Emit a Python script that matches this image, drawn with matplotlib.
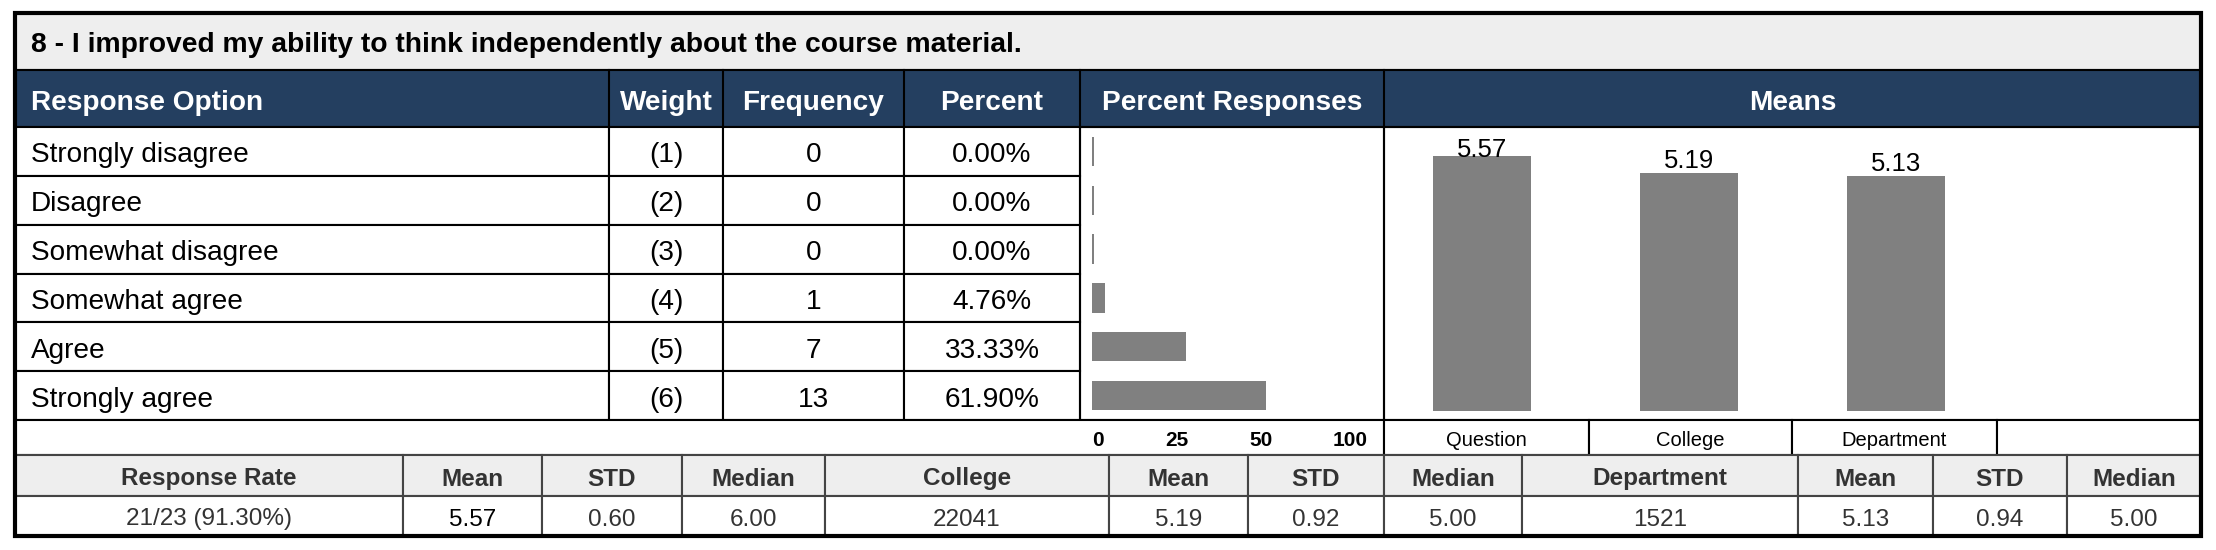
import matplotlib.pyplot as plt
from matplotlib.patches import Rectangle

plt.rcParams['font.family'] = ['Liberation Sans', 'DejaVu Sans']

# data
title = "8 - I improved my ability to think independently about the course material."
header = ["Response Option", "Weight", "Frequency", "Percent", "Percent Responses", "Means"]
options = ["Strongly disagree", "Disagree", "Somewhat disagree", "Somewhat agree", "Agree", "Strongly agree"]
weights = [1, 2, 3, 4, 5, 6]
frequency = [0, 0, 0, 1, 7, 13]
percent = [0.00, 0.00, 0.00, 4.76, 33.33, 61.90]
pct_ticks = ["0", "25", "50", "100"]
mean_groups = ["Question", "College", "Department"]
means = [5.57, 5.19, 5.13]
summary_head = ["Response Rate", "Mean", "STD", "Median", "College", "Mean", "STD",
                "Median", "Department", "Mean", "STD", "Median"]
summary_vals = ["21/23 (91.30%)", "5.57", "0.60", "6.00", "22041", "5.19", "0.92",
                "5.00", "1521", "5.13", "0.94", "5.00"]

W, H = 2216, 550
NAVY = "#243F60"
LIGHT = "#EEEEEE"
GRAY = "#808080"

fig = plt.figure(figsize=(W / 100, H / 100), dpi=100)
ax = fig.add_axes([0, 0, 1, 1])
ax.set_xlim(0, W)
ax.set_ylim(H, 0)
ax.axis("off")


def cell(x0, y0, x1, y1, fc="white", ec="black", lw=1.5, z=1):
    ax.add_patch(Rectangle((x0, y0), x1 - x0, y1 - y0, fc=fc, ec=ec, lw=lw, zorder=z))


def label(x, y, s, **kw):
    kw.setdefault("va", "center_baseline")
    kw.setdefault("zorder", 3)
    ax.text(x, y + 1, s, **kw)


L, R = 15, 2201
top, t_bot, h_bot, d_bot, a_bot, s_bot, bot = 13, 70, 127, 420, 455, 496, 536
cols = [L, 609, 723, 904, 1080, 1384, R]

# title row
cell(L, top, R, t_bot, fc=LIGHT)
label(31, (top + t_bot) / 2, title, fontsize=20.3, fontweight="bold", ha="left")

# header row
cell(L, t_bot, R, h_bot, fc=NAVY)
for i, name in enumerate(header):
    x0, x1 = cols[i], cols[i + 1]
    ax.plot([x0, x0], [t_bot, h_bot], color="black", lw=1.5, zorder=2)
    if i == 0:
        label(31, (t_bot + h_bot) / 2, name, color="white", fontsize=20.2,
              fontweight="bold", ha="left")
    else:
        label((x0 + x1) / 2, (t_bot + h_bot) / 2, name, color="white", fontsize=20.2,
              fontweight="bold", ha="center")

# data rows
rh = (d_bot - h_bot) / len(options)
for r, opt in enumerate(options):
    y0 = h_bot + r * rh
    y1 = y0 + rh
    cy = (y0 + y1) / 2
    vals = [opt, "(%d)" % weights[r], str(frequency[r]), "%.2f%%" % percent[r]]
    for c in range(4):
        cell(cols[c], y0, cols[c + 1], y1)
        if c == 0:
            label(31, cy, vals[c], fontsize=20.2, ha="left")
        else:
            label((cols[c] + cols[c + 1]) / 2, cy, vals[c], fontsize=20.2, ha="center")
cell(cols[4], h_bot, cols[5], d_bot, fc="none")
cell(cols[5], h_bot, R, d_bot, fc="none")

# axis row
cell(L, d_bot, cols[5], a_bot)
for lab, x in zip(pct_ticks, [1098, 1177, 1261, 1350]):
    label(x, (d_bot + a_bot) / 2, lab, fontsize=15, fontweight="bold", ha="center")
mcols = [1384, 1589, 1792, 1997, R]
for i in range(4):
    cell(mcols[i], d_bot, mcols[i + 1], a_bot)
    if i < len(mean_groups):
        label((mcols[i] + mcols[i + 1]) / 2, (d_bot + a_bot) / 2, mean_groups[i],
              fontsize=14.5, ha="center")

# summary table
scols = [L, 403, 542, 682, 825, 1109, 1248, 1384, 1522, 1798, 1933, 2067, R]
for i in range(len(summary_head)):
    x0, x1 = scols[i], scols[i + 1]
    cell(x0, a_bot, x1, s_bot, fc=LIGHT, ec="#444444", lw=1.5)
    cell(x0, s_bot, x1, bot, fc="white", ec="#444444", lw=1.5)
    label((x0 + x1) / 2, (a_bot + s_bot) / 2, summary_head[i], fontsize=17.5,
          fontweight="bold", color="#333333", ha="center")
    label((x0 + x1) / 2, (s_bot + bot) / 2, summary_vals[i], fontsize=17.5,
          color="black" if i == 1 else "#333333", ha="center")

# outer border
ax.add_patch(Rectangle((L, top), R - L, bot - top, fc="none", ec="black", lw=3, zorder=10))


def fig_axes(x0, y0, x1, y1):
    return fig.add_axes([x0 / W, 1 - y1 / H, (x1 - x0) / W, (y1 - y0) / H])


# percent responses bars
px_per_pct = 2.81
bx = fig_axes(1092, h_bot, 1384, d_bot)
bx.barh(range(len(percent)), [max(p, 0.7) for p in percent], height=0.6, color=GRAY)
bx.set_xlim(0, (1384 - 1092) / px_per_pct)
bx.set_ylim(len(percent) - 0.5, -0.5)
bx.axis("off")

# means bars
unit = 207
mx = fig_axes(1384, h_bot, R, 411)
a = -(1482 - 1384) / unit
mx.bar(range(len(means)), means, width=98 / unit, color=GRAY)
for i, m in enumerate(means):
    mx.text(i, min(m + 0.27, 5.7), "%.2f" % m, fontsize=18.5, ha="center", va="center")
mx.set_xlim(a, a + (R - 1384) / unit)
mx.set_ylim(0, (411 - h_bot) / 45.8)
mx.axis("off")

fig.savefig("out.png", dpi=100)
